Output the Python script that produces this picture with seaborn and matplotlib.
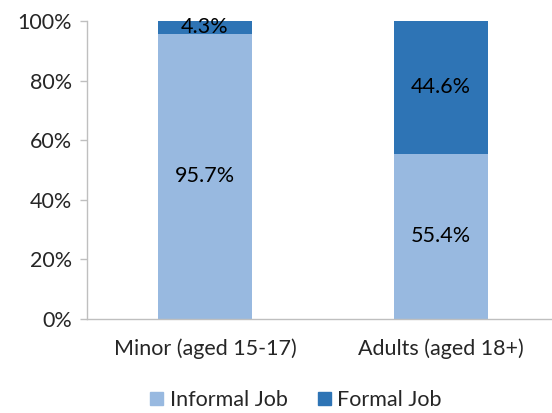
import matplotlib
matplotlib.use("Agg")
import matplotlib.pyplot as plt
import seaborn as sns
import pandas as pd
from matplotlib.patches import Patch

categories = ["Minor (aged 15-17)", "Adults (aged 18+)"]
informal = [95.7, 55.4]
formal = [4.3, 44.6]
series_names = ["Informal Job", "Formal Job"]
yticks = [0, 20, 40, 60, 80, 100]

light = "#98B9E0"
dark = "#2E74B5"
FS = 15.5

sns.set_theme(style="white")
plt.rcParams['font.family'] = ['Lato', 'DejaVu Sans']

fig = plt.figure(figsize=(5.52, 4.13), dpi=100)
ax = fig.add_axes([87/552, 1 - 319/413, (552 - 87)/552, (319 - 21)/413])

df = pd.DataFrame({"cat": categories, "informal": informal, "formal": formal})
df["total"] = df["informal"] + df["formal"]

sns.barplot(data=df, x="cat", y="total", color=dark, saturation=1, width=0.4, ax=ax)
sns.barplot(data=df, x="cat", y="informal", color=light, saturation=1, width=0.4, ax=ax)

patches = ax.patches
n = len(categories)
for i in range(n):
    p_total = patches[i]
    p_inf = patches[n + i]
    p_total.set_edgecolor("none")
    p_inf.set_edgecolor("none")
    x = p_inf.get_x() + p_inf.get_width() / 2
    ax.text(x, informal[i] / 2, f"{informal[i]:.1f}%", ha="center", va="center", fontsize=FS, color="black")
    ax.text(x, informal[i] + formal[i] / 2, f"{formal[i]:.1f}%", ha="center", va="center", fontsize=FS, color="black")

ax.set_xlim(-0.5, -0.5 + 465/236)
ax.set_ylim(0, 100)
ax.set_yticks(yticks)
ax.set_yticklabels([f"{t}%" for t in yticks], fontsize=FS)
ax.tick_params(axis="x", labelsize=FS, length=0, pad=14)
ax.tick_params(axis="y", left=True, length=5, width=1, color="#BFBFBF", pad=6)
ax.set_xlabel("")
ax.set_ylabel("")
for s in ["top", "right"]:
    ax.spines[s].set_visible(False)
for s in ["left", "bottom"]:
    ax.spines[s].set_color("#BFBFBF")
    ax.spines[s].set_linewidth(1)
ax.grid(False)

handles = [Patch(color=light, label=series_names[0]), Patch(color=dark, label=series_names[1])]
fig.legend(handles=handles, loc="center", bbox_to_anchor=(296/552, 1 - 400/413), ncol=2, frameon=False,
           fontsize=FS, handlelength=0.6, handleheight=0.6, handletextpad=0.3, columnspacing=1.4)

fig.savefig("out.png", dpi=100)
